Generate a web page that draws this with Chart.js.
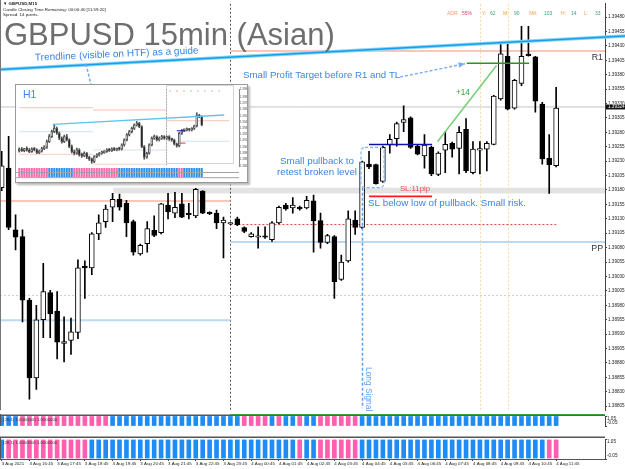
<!DOCTYPE html>
<html>
<head>
<meta charset="utf-8">
<script src="https://cdn.jsdelivr.net/npm/chart.js@4.4.0/dist/chart.umd.min.js"></script>
<style>
  html, body { margin: 0; padding: 0; background: #fff; }
  #wrap { position: relative; width: 625px; height: 469px; overflow: hidden; }
  #wrap canvas { position: absolute; left: 0; }
  #main { top: 0; }
  #pane1 { top: 414px; }
  #pane2 { top: 438px; }
  #inset { position: absolute; left: 15px; top: 84px; width: 231px; height: 97px; border: 1px solid #9a9a9a; box-shadow: 2px 2px 2px #b8b8b8; background: #fff; }
  #inset canvas { position: absolute; left: 0; top: 0; }
</style>
</head>
<body>
<div id="wrap">
  <canvas id="main" width="625" height="414"></canvas>
  <canvas id="pane1" width="625" height="24"></canvas>
  <canvas id="pane2" width="625" height="31"></canvas>
  <div id="inset"><canvas id="h1" width="231" height="97"></canvas></div>
</div>
<script>
// 🔹 GBPUSD M15, 3 Aug 15:45 -> 4 Aug 11:45 (81 candles)
const opens = [1.39184, 1.39218, 1.39111, 1.39099, 1.38989, 1.38854, 1.38955, 1.39002, 1.38970, 1.38914,
  1.38919, 1.38933, 1.39048, 1.39045, 1.39104, 1.39125, 1.39150, 1.39164, 1.39157, 1.39125,
  1.39069, 1.39087, 1.39110, 1.39106, 1.39154, 1.39140, 1.39156, 1.39140, 1.39135, 1.39178,
  1.39140, 1.39140, 1.39123, 1.39121, 1.39130, 1.39115, 1.39099, 1.39098, 1.39099, 1.39094,
  1.39123, 1.39154, 1.39149, 1.39150, 1.39149, 1.39161, 1.39127, 1.39089, 1.39099, 1.39025,
  1.39057, 1.39128, 1.39115, 1.39225, 1.39224, 1.39195, 1.39258, 1.39269, 1.39297, 1.39305,
  1.39256, 1.39239, 1.39254, 1.39207, 1.39249, 1.39261, 1.39252, 1.39285, 1.39210, 1.39249,
  1.39251, 1.39259, 1.39338, 1.39412, 1.39322, 1.39365, 1.39414, 1.39411, 1.39329, 1.39235,
  1.39222];
const highs = [1.39247, 1.39273, 1.39137, 1.39111, 1.38992, 1.38980, 1.39053, 1.39006, 1.39004, 1.38960,
  1.38958, 1.39059, 1.39057, 1.39106, 1.39137, 1.39154, 1.39174, 1.39173, 1.39162, 1.39128,
  1.39086, 1.39125, 1.39135, 1.39157, 1.39174, 1.39176, 1.39174, 1.39157, 1.39183, 1.39179,
  1.39142, 1.39145, 1.39133, 1.39123, 1.39133, 1.39116, 1.39106, 1.39116, 1.39116, 1.39125,
  1.39152, 1.39157, 1.39167, 1.39152, 1.39169, 1.39171, 1.39140, 1.39103, 1.39101, 1.39067,
  1.39144, 1.39144, 1.39230, 1.39247, 1.39225, 1.39256, 1.39276, 1.39298, 1.39326, 1.39307,
  1.39258, 1.39276, 1.39256, 1.39246, 1.39281, 1.39263, 1.39290, 1.39304, 1.39264, 1.39264,
  1.39264, 1.39344, 1.39435, 1.39435, 1.39372, 1.39464, 1.39464, 1.39412, 1.39332, 1.39276,
  1.39358];
const lows = [1.39179, 1.39111, 1.39076, 1.38951, 1.38817, 1.38834, 1.38924, 1.38924, 1.38887, 1.38882,
  1.38895, 1.38922, 1.38992, 1.39033, 1.39094, 1.39115, 1.39125, 1.39145, 1.39099, 1.39067,
  1.39067, 1.39072, 1.39099, 1.39104, 1.39130, 1.39132, 1.39132, 1.39130, 1.39132, 1.39139,
  1.39137, 1.39113, 1.39062, 1.39120, 1.39118, 1.39106, 1.39098, 1.39079, 1.39096, 1.39091,
  1.39121, 1.39145, 1.39140, 1.39145, 1.39147, 1.39072, 1.39079, 1.39087, 1.38992, 1.39023,
  1.39055, 1.39103, 1.39113, 1.39217, 1.39190, 1.39193, 1.39244, 1.39256, 1.39281, 1.39252,
  1.39241, 1.39218, 1.39205, 1.39205, 1.39210, 1.39237, 1.39208, 1.39210, 1.39208, 1.39208,
  1.39213, 1.39258, 1.39336, 1.39319, 1.39320, 1.39361, 1.39412, 1.39315, 1.39225, 1.39174,
  1.39220];
const closes = [1.39222, 1.39115, 1.39098, 1.38989, 1.38854, 1.38955, 1.39004, 1.38965, 1.38916, 1.38917,
  1.38934, 1.39045, 1.39045, 1.39104, 1.39123, 1.39147, 1.39164, 1.39150, 1.39123, 1.39072,
  1.39084, 1.39113, 1.39101, 1.39156, 1.39142, 1.39150, 1.39133, 1.39137, 1.39181, 1.39140,
  1.39139, 1.39123, 1.39128, 1.39122, 1.39120, 1.39108, 1.39104, 1.39099, 1.39098, 1.39123,
  1.39150, 1.39147, 1.39154, 1.39147, 1.39162, 1.39127, 1.39089, 1.39101, 1.39021, 1.39055,
  1.39130, 1.39115, 1.39229, 1.39220, 1.39191, 1.39254, 1.39268, 1.39295, 1.39302, 1.39254,
  1.39242, 1.39258, 1.39208, 1.39244, 1.39259, 1.39251, 1.39280, 1.39213, 1.39251, 1.39252,
  1.39261, 1.39343, 1.39416, 1.39320, 1.39370, 1.39412, 1.39413, 1.39334, 1.39234, 1.39224,
  1.39322];

// time axis: one label every 4 candles
const timeLabels = ['3 Aug 2021', '3 Aug 16:45', '3 Aug 17:45', '3 Aug 18:45', '3 Aug 19:45', '3 Aug 20:45',
  '3 Aug 21:45', '3 Aug 22:45', '3 Aug 23:45', '4 Aug 00:45', '4 Aug 01:45', '4 Aug 02:45', '4 Aug 03:45',
  '4 Aug 04:45', '4 Aug 05:45', '4 Aug 06:45', '4 Aug 07:45', '4 Aug 08:45', '4 Aug 09:45', '4 Aug 10:45',
  '4 Aug 11:45'];
const priceTicks = [1.38805, 1.38830, 1.38855, 1.38880, 1.38905, 1.38930, 1.38955, 1.38980, 1.39005, 1.39030,
  1.39055, 1.39080, 1.39105, 1.39130, 1.39155, 1.39180, 1.39205, 1.39230, 1.39255, 1.39280,
  1.39305, 1.39330, 1.39355, 1.39380, 1.39405, 1.39430, 1.39455, 1.39480];

// signal strips (1 = blue / up, 0 = pink / down)
const pane1Signal = [1,1,1,0,0,0,0,0,0,0, 0,0,0,0,0,0,1,1,1,1, 1,1,1,1,1,1,1,1,1,1,
  1,1,1,1,1,0,0,0,0,1, 0,1,1,0,1,1,0,0,0,0, 0,0,1,1,1,1,1,1,1,1,
  1,1,1,1,1,1,1,1,1,1, 1,1,1,1,1,1,1,1,1,1, 1];
const pane2Signal = [1,0,0,0,0,0,0,0,0,0, 0,0,0,1,1,1,1,1,1,1, 1,1,1,1,1,1,1,1,1,1,
  1,1,1,1,1,1,1,1,1,1, 1,1,1,0,1,1,0,0,0,0, 0,0,1,1,1,1,1,1,1,1,
  1,1,1,1,1,1,1,1,1,1, 1,1,1,1,1,1,1,1,1,0, 0];

// levels (prices)
const prevDay = [1.39161, 1.38954];      // R1, PP of 3 Aug
const today = [1.39421, 1.39090];        // R1, PP of 4 Aug
const dayStart = 33;                     // 4 Aug 00:00 candle
const sessionMarks = [69, 73];
const trendline = [[-0.25, 1.39389], [90, 1.39447]];
const brokenLevel = 1.39259;
const targetLevel = 1.39400;
const stopLevel = 1.39169;
const entryZone = [1.39184, 1.39174];
const redDotted = 1.39120;
const greyDotted = 1.38997;
const lastPrice = 1.39324;
const signalBar = 52;

// 🔹 H1 inset (30 Jul -> 4 Aug 11:00)
const h1Open = [1.38935, 1.38962, 1.38940, 1.38972, 1.38951, 1.38924, 1.38962, 1.38951, 1.38908, 1.38929,
  1.38972, 1.38994, 1.39085, 1.39165, 1.39246, 1.39299, 1.39219, 1.39138, 1.39085, 1.39165,
  1.39112, 1.39004, 1.38924, 1.38897, 1.38951, 1.38870, 1.38854, 1.38897, 1.38833, 1.38801,
  1.38763, 1.38844, 1.38870, 1.38897, 1.38908, 1.38924, 1.38951, 1.38940, 1.38962, 1.38951,
  1.38972, 1.38962, 1.39031, 1.39112, 1.39192, 1.39246, 1.39299, 1.39353, 1.39380, 1.39326,
  1.39004, 1.38833, 1.38897, 1.39031, 1.39138, 1.39165, 1.39112, 1.39138, 1.39165, 1.39138,
  1.39165, 1.39122, 1.39112, 1.39047, 1.39015, 1.39219, 1.39262, 1.39272, 1.39283, 1.39272,
  1.39299, 1.39337, 1.39514, 1.39487];
const h1High = [1.38985, 1.38990, 1.38975, 1.39000, 1.38975, 1.38985, 1.38990, 1.38970, 1.38950, 1.38995,
  1.39020, 1.39110, 1.39200, 1.39270, 1.39365, 1.39320, 1.39240, 1.39160, 1.39190, 1.39200,
  1.39130, 1.39030, 1.38950, 1.38980, 1.38970, 1.38900, 1.38920, 1.38910, 1.38850, 1.38820,
  1.38860, 1.38890, 1.38910, 1.38930, 1.38940, 1.38970, 1.38975, 1.38985, 1.38990, 1.38980,
  1.38995, 1.39050, 1.39130, 1.39215, 1.39265, 1.39320, 1.39370, 1.39410, 1.39395, 1.39340,
  1.39020, 1.38915, 1.39050, 1.39160, 1.39190, 1.39180, 1.39160, 1.39185, 1.39180, 1.39175,
  1.39180, 1.39140, 1.39125, 1.39060, 1.39235, 1.39280, 1.39290, 1.39305, 1.39295, 1.39310,
  1.39350, 1.39550, 1.39525, 1.39500];
const h1Low = [1.38915, 1.38925, 1.38920, 1.38930, 1.38905, 1.38910, 1.38935, 1.38890, 1.38890, 1.38915,
  1.38955, 1.38975, 1.39070, 1.39150, 1.39230, 1.39200, 1.39115, 1.39060, 1.39070, 1.39095,
  1.38985, 1.38900, 1.38870, 1.38880, 1.38850, 1.38830, 1.38840, 1.38810, 1.38780, 1.38735,
  1.38745, 1.38825, 1.38850, 1.38880, 1.38895, 1.38910, 1.38925, 1.38925, 1.38940, 1.38935,
  1.38945, 1.38950, 1.39010, 1.39095, 1.39175, 1.39225, 1.39280, 1.39335, 1.39310, 1.38985,
  1.38800, 1.38815, 1.38880, 1.39015, 1.39120, 1.39095, 1.39095, 1.39120, 1.39120, 1.39120,
  1.39105, 1.39090, 1.39030, 1.38995, 1.39000, 1.39200, 1.39245, 1.39255, 1.39255, 1.39255,
  1.39280, 1.39320, 1.39470, 1.39340];
const h1Close = [1.38962, 1.38940, 1.38972, 1.38951, 1.38924, 1.38962, 1.38951, 1.38908, 1.38929, 1.38972,
  1.38994, 1.39085, 1.39165, 1.39246, 1.39299, 1.39219, 1.39138, 1.39085, 1.39165, 1.39112,
  1.39004, 1.38924, 1.38897, 1.38951, 1.38870, 1.38854, 1.38897, 1.38833, 1.38801, 1.38763,
  1.38844, 1.38870, 1.38897, 1.38908, 1.38924, 1.38951, 1.38940, 1.38962, 1.38951, 1.38972,
  1.38962, 1.39031, 1.39112, 1.39192, 1.39246, 1.39299, 1.39353, 1.39380, 1.39326, 1.39004,
  1.38833, 1.38897, 1.39031, 1.39138, 1.39165, 1.39112, 1.39138, 1.39165, 1.39138, 1.39165,
  1.39122, 1.39112, 1.39047, 1.39015, 1.39219, 1.39262, 1.39272, 1.39283, 1.39272, 1.39299,
  1.39337, 1.39514, 1.39487, 1.39353];
const h1Strip = [0,0,0,0,0,0,0,0,0,0, 0,0,1,1,1,1,1,1,1,1, 1,1,0,0,0,0,0,0,0,0,
  0,0,0,0,0,0,0,0,0,0, 1,1,1,1,1,1,1,1,1,1, 1,1,1,1,1,1,1,1,1,1,
  1,1,1,1,0,0,1,1,1,1, 1,1,1,1];
const h1Trend = [[13.4, 1.39364], [82, 1.39514]];
const h1Levels = [[0, 29.5, 1.39631, '#f7c2b4'], [29.5, 58.7, 1.39594, '#f7c2b4'], [58.7, 84, 1.39421, '#f7c2b4'],
  [0, 29.5, 1.39244, '#cfe2f5'], [29.5, 58.7, 1.38949, '#cfe2f5'], [58.7, 84, 1.39090, '#cfe2f5'],
  [0, 29.5, 1.38880, '#f7d0c6'], [29.5, 58.7, 1.38720, '#f7d0c6']];
const h1DayStart = 58.7;

const X_MIN = -0.245, X_MAX = 87.05;
const FONT = '"Liberation Sans", Arial, sans-serif';
const BLUE_TXT = '#3b86e2';

function seg(points, color, width, dash, order) {
  return {
    type: 'line',
    data: points.map(p => ({ x: p[0], y: p[1] })),
    borderColor: color,
    borderWidth: width,
    borderDash: dash || [],
    pointRadius: 0,
    fill: false,
    clip: false,
    order: order
  };
}

const idx = opens.map((_, i) => i);

function txt(ctx, s, x, y, size, color, align, weight) {
  ctx.font = (weight || '') + ' ' + size + 'px ' + FONT;
  ctx.fillStyle = color;
  ctx.textAlign = align || 'left';
  ctx.textBaseline = 'middle';
  ctx.fillText(s, x, y);
}

function arrow(ctx, x0, y0, x1, y1, color) {
  ctx.save();
  ctx.strokeStyle = color;
  ctx.fillStyle = color;
  ctx.lineWidth = 1.5;
  ctx.setLineDash([3, 2]);
  ctx.beginPath();
  ctx.moveTo(x0, y0);
  ctx.lineTo(x1, y1);
  ctx.stroke();
  ctx.setLineDash([]);
  const a = Math.atan2(y1 - y0, x1 - x0);
  ctx.beginPath();
  ctx.moveTo(x1, y1);
  ctx.lineTo(x1 - 7 * Math.cos(a - 0.4), y1 - 7 * Math.sin(a - 0.4));
  ctx.lineTo(x1 - 7 * Math.cos(a + 0.4), y1 - 7 * Math.sin(a + 0.4));
  ctx.closePath();
  ctx.fill();
  ctx.restore();
}

const mainDecor = {
  id: 'mainDecor',
  beforeDatasetsDraw(chart) {
    const { ctx, chartArea: a, scales: { x, y } } = chart;
    ctx.save();
    // zone band
    const bx = x.getPixelForValue(16.1);
    ctx.fillStyle = '#e3e3e3';
    ctx.fillRect(bx, y.getPixelForValue(entryZone[0]), a.right - bx,
      y.getPixelForValue(entryZone[1]) - y.getPixelForValue(entryZone[0]));
    // vertical separators
    ctx.lineWidth = 1;
    ctx.setLineDash([2, 2]);
    ctx.strokeStyle = '#555';
    const px = Math.round(x.getPixelForValue(dayStart)) + 0.5;
    ctx.beginPath(); ctx.moveTo(px, a.top); ctx.lineTo(px, a.bottom); ctx.stroke();
    ctx.strokeStyle = '#f6d9a6';
    sessionMarks.forEach(i => {
      const sx = Math.round(x.getPixelForValue(i)) + 0.5;
      ctx.beginPath(); ctx.moveTo(sx, a.top); ctx.lineTo(sx, a.bottom); ctx.stroke();
    });
    ctx.restore();
  },
  afterDatasetsDraw(chart) {
    const { ctx, chartArea: a, scales: { x, y } } = chart;
    ctx.save();
    // window border
    ctx.strokeStyle = '#777';
    ctx.lineWidth = 1;
    ctx.beginPath(); ctx.moveTo(0.5, 0); ctx.lineTo(0.5, a.bottom); ctx.stroke();

    // long signal line
    const lx = Math.round(x.getPixelForValue(signalBar)) + 0.5;
    ctx.strokeStyle = '#5b9ff0';
    ctx.lineWidth = 1.5;
    ctx.setLineDash([3, 2]);
    ctx.beginPath(); ctx.moveTo(lx, y.getPixelForValue(entryZone[0])); ctx.lineTo(lx, a.bottom - 2); ctx.stroke();

    // pullback box
    const bx0 = x.getPixelForValue(51.85), bx1 = x.getPixelForValue(55.17);
    const by0 = y.getPixelForValue(1.39254), by1 = y.getPixelForValue(1.39184);
    ctx.strokeStyle = '#7eb3f0';
    ctx.lineWidth = 1.2;
    ctx.beginPath();
    ctx.roundRect(bx0, by0, bx1 - bx0, by1 - by0, 4);
    ctx.stroke();
    ctx.setLineDash([]);

    // arrows
    arrow(ctx, x.getPixelForValue(57.5), y.getPixelForValue(1.39376), x.getPixelForValue(66.85), y.getPixelForValue(1.39399), '#7aaef0');
    arrow(ctx, 86, 64, 100, 122, '#6ea8f0');

    // texts
    txt(ctx, 'GBPUSD 15min (Asian)', 4, 36, 31, '#6e6e6e', 'left');
    txt(ctx, '\u25BC GBPUSD,M15', 3, 4, 4.4, '#222', 'left', 'bold');
    txt(ctx, 'Candle Closing Time Remaining: 00:00:40 [11:59:20]', 3, 9.5, 4.4, '#222', 'left');
    txt(ctx, 'Spread: 14 points.', 3, 15, 4.4, '#222', 'left');

    const adr = [['ADR', '#f2a04c', 447], ['55%', '#e8436e', 462], ['Y:', '#f2a04c', 482], ['62', '#3f9f70', 490],
      ['M:', '#f2a04c', 503], ['90', '#3f9f70', 514], ['6M:', '#f2a04c', 529], ['103', '#3f9f70', 544],
      ['H:', '#f2a04c', 561], ['14', '#3f9f70', 571], ['L:', '#f2a04c', 584], ['33', '#3f9f70', 595]];
    adr.forEach(t => txt(ctx, t[0], t[2], 14, 5, t[1], 'left'));

    ctx.save();
    ctx.translate(35, 58);
    ctx.rotate(-0.045);
    txt(ctx, 'Trendline (visible on HTF) as a guide', 0, 0, 10, BLUE_TXT, 'left');
    ctx.restore();

    txt(ctx, 'Small Profit Target before R1 and TL', 243, 75, 9.7, BLUE_TXT, 'left');
    txt(ctx, 'Small pullback to', 317, 161, 9.8, BLUE_TXT, 'center');
    txt(ctx, 'retest broken level', 317, 172, 9.8, BLUE_TXT, 'center');
    txt(ctx, 'SL:11pip', 415, 189, 7.8, '#f04c4c', 'center');
    txt(ctx, 'SL below low of pullback. Small risk.', 368, 203, 9.8, BLUE_TXT, 'left');
    txt(ctx, '+14', 456, 93, 8.2, '#34a034', 'left');

    ctx.save();
    ctx.translate(lx + 6, 367);
    ctx.rotate(Math.PI / 2);
    txt(ctx, 'Long Signal', 0, 0, 8.4, '#5b9ff0', 'left');
    ctx.restore();

    txt(ctx, 'R1', 603, y.getPixelForValue(today[0]) + 7, 8.8, '#333', 'right');
    txt(ctx, 'PP', 603, y.getPixelForValue(today[1]) + 7, 8.8, '#333', 'right');

    // last price tag
    const py = y.getPixelForValue(lastPrice);
    ctx.fillStyle = '#111';
    ctx.fillRect(a.right + 1, py - 2.5, 19, 5);
    txt(ctx, lastPrice.toFixed(5), a.right + 3, py, 4.6, '#fff', 'left');
    ctx.restore();
  }
};

function candleSets(o, h, l, c, bodyW, border) {
  const n = o.map((_, i) => i);
  return [
    {
      data: n.map(i => ({ x: i, y: [o[i], c[i]] })),
      backgroundColor: n.map(i => c[i] > o[i] ? '#ffffff' : '#000000'),
      borderColor: border,
      borderWidth: 1,
      borderSkipped: false,
      barThickness: bodyW,
      minBarLength: 1.5,
      grouped: false,
      order: 2
    },
    {
      data: n.map(i => ({ x: i, y: [l[i], h[i]] })),
      backgroundColor: border,
      barThickness: 1,
      grouped: false,
      order: 3
    }
  ];
}

new Chart(document.getElementById('main'), {
  type: 'bar',
  data: {
    datasets: [
      ...candleSets(opens, highs, lows, closes, 5, '#000000'),
      seg([[X_MIN, prevDay[0]], [dayStart, prevDay[0]]], '#f7b3a0', 1.5, [], 10),
      seg([[dayStart, today[0]], [X_MAX, today[0]]], '#f7b3a0', 1.5, [], 10),
      seg([[X_MIN, prevDay[1]], [dayStart, prevDay[1]]], '#bcd8f2', 2, [], 10),
      seg([[dayStart, today[1]], [X_MAX, today[1]]], '#bcd8f2', 2, [], 10),
      seg([[X_MIN, lastPrice], [X_MAX, lastPrice]], '#c4c4c4', 1, [], 10),
      seg([[X_MIN, greyDotted], [X_MAX, greyDotted]], '#cfcfcf', 1, [2, 2], 10),
      seg([[dayStart, redDotted], [80, redDotted]], '#e23a3a', 1, [2, 2], 10),
      seg(trendline, '#8ad6f6', 3.5, [], 1),
      seg(trendline, '#159eea', 1.5, [], 0),
      seg([[53, brokenLevel], [62.1, brokenLevel]], '#1010b0', 1.5, [], 0),
      seg([[53, stopLevel], [62.1, stopLevel]], '#ff1a1a', 1.8, [], 0),
      seg([[67.1, targetLevel], [76.1, targetLevel]], '#229a22', 1.5, [], 0),
      seg([[62.9, 1.39264], [71.4, 1.39396]], '#74cf74', 1.5, [], 0)
    ]
  },
  options: {
    responsive: false,
    animation: false,
    layout: { padding: 0 },
    plugins: { legend: { display: false }, tooltip: { enabled: false } },
    scales: {
      x: { type: 'linear', min: X_MIN, max: X_MAX, offset: false, display: false },
      y: {
        position: 'right',
        min: 1.38798,
        max: 1.39503,
        afterBuildTicks: s => { s.ticks = priceTicks.map(v => ({ value: v })); },
        afterFit: s => { s.width = 20; },
        ticks: { font: { size: 4.6, family: FONT }, color: '#222', padding: 1, callback: v => v.toFixed(5) },
        grid: { drawOnChartArea: false, tickLength: 2, color: '#444' },
        border: { color: '#444' }
      }
    }
  },
  plugins: [mainDecor]
});

// 🔹 signal panes
function paneChart(id, signal, withTime) {
  const panePlugin = {
    id: 'pane' + id,
    afterDraw(chart) {
      const { ctx, chartArea: a } = chart;
      ctx.save();
      if (id === 'pane1') {
        ctx.fillStyle = '#555';
        ctx.fillRect(0, 0.5, a.right, 1.5);
        ctx.fillStyle = '#3ea03e';
        const dx = chart.scales.x.getPixelForValue(dayStart);
        ctx.fillRect(dx, 0, a.right - dx, 1.2);
        ctx.fillStyle = '#555';
        ctx.fillRect(0, chart.height - 1.5, a.right, 1.5);
      } else {
        ctx.fillStyle = '#555';
        ctx.fillRect(0, a.bottom, a.right, 1);
      }
      ctx.fillStyle = '#555';
      ctx.fillRect(0, 0, 1, a.bottom);
      txt(ctx, '(28,1) 1.0000000 1.0000000', 3, a.top + 4, 4.3, '#333', 'left');
      txt(ctx, '1.05', a.right + 2, a.top + 3, 4.6, '#222', 'left');
      txt(ctx, '-0.05', a.right + 2, a.bottom - 3, 4.6, '#222', 'left');
      ctx.restore();
    }
  };
  return new Chart(document.getElementById(id), {
    type: 'bar',
    data: {
      datasets: [{
        data: idx.map(i => ({ x: i, y: [0, 1] })),
        backgroundColor: signal.map(s => s ? '#1f8cf5' : '#ff5fae'),
        barThickness: 4,
        grouped: false
      }]
    },
    options: {
      responsive: false,
      animation: false,
      layout: { padding: id === 'pane1' ? { top: 2, bottom: 2 } : { top: 1 } },
      plugins: { legend: { display: false }, tooltip: { enabled: false } },
      scales: {
        x: {
          type: 'linear', min: X_MIN, max: X_MAX, offset: false,
          display: withTime,
          afterBuildTicks: s => { s.ticks = timeLabels.map((_, k) => ({ value: k * 4 })); },
          afterFit: s => { s.height = 10; },
          ticks: {
            autoSkip: false, maxRotation: 0, align: 'start', padding: 0,
            font: { size: 4.4, family: FONT }, color: '#222',
            callback: v => timeLabels[v / 4]
          },
          grid: { drawOnChartArea: false, tickLength: 2, color: '#444', offset: false },
          border: { color: '#444' }
        },
        y: {
          position: 'right', min: -0.05, max: 1.05,
          afterFit: s => { s.width = 20; },
          ticks: { display: false },
          grid: { drawOnChartArea: false, tickLength: 2, color: '#444' },
          border: { color: '#444' }
        }
      }
    },
    plugins: [panePlugin]
  });
}
paneChart('pane1', pane1Signal, false);
paneChart('pane2', pane2Signal, true);

// 🔹 H1 inset chart
const insetPlugin = {
  id: 'insetDecor',
  beforeDatasetsDraw(chart) {
    const { ctx, chartArea: a, scales: { x } } = chart;
    ctx.save();
    // current-day panel
    const dx = x.getPixelForValue(h1DayStart);
    ctx.strokeStyle = '#d6d6d6';
    ctx.lineWidth = 1;
    ctx.strokeRect(Math.round(dx) + 0.5, 0.5, a.right - dx - 6, a.bottom - 3);
    ctx.setLineDash([1.5, 1.5]);
    ctx.strokeStyle = '#aaa';
    ctx.beginPath(); ctx.moveTo(Math.round(dx) + 0.5, a.top); ctx.lineTo(Math.round(dx) + 0.5, a.bottom); ctx.stroke();
    ctx.setLineDash([2, 3]);
    ['#f5b070', '#f0a0b0', '#f5b070', '#9ad0b0', '#f5b070', '#9ad0b0', '#f5b070', '#9ad0b0'].forEach((c, k) => {
      ctx.strokeStyle = c;
      ctx.beginPath(); ctx.moveTo(dx + 3 + k * 7, 6); ctx.lineTo(dx + 8 + k * 7, 6); ctx.stroke();
    });
    ctx.restore();
  },
  afterDraw(chart) {
    const { ctx, chartArea: a, scales: { x } } = chart;
    ctx.save();
    txt(ctx, 'H1', 7, 10, 10.5, '#3b8ae6', 'left');
    // strips
    h1Strip.forEach((s, i) => {
      ctx.fillStyle = s ? '#2b8ef2' : '#ff66b0';
      const px = x.getPixelForValue(i) - 1;
      ctx.fillRect(px, a.bottom + 2, 2, 4);
      ctx.fillRect(px, a.bottom + 7, 2, 4);
    });
    ctx.fillStyle = '#666';
    ctx.fillRect(0, a.bottom + 6.3, a.right, 0.6);
    ctx.fillRect(0, a.bottom + 11.5, a.right, 0.6);
    ctx.restore();
  }
};
new Chart(document.getElementById('h1'), {
  type: 'bar',
  data: {
    datasets: [
      ...candleSets(h1Open, h1High, h1Low, h1Close, 2, '#555555'),
      ...h1Levels.map(l => seg([[l[0], l[2]], [l[1], l[2]]], l[3], 1, [], 10)),
      seg(h1Trend, '#5cc4f2', 1.3, [], 0),
      seg([[64, 1.39060], [66.5, 1.39060]], '#e04040', 1, [], 0),
      seg([[63, 1.39259], [66.5, 1.39259]], '#1a1ab0', 1, [], 0)
    ]
  },
  options: {
    responsive: false,
    animation: false,
    layout: { padding: { left: 2, top: 4, bottom: 16 } },
    plugins: { legend: { display: false }, tooltip: { enabled: false } },
    scales: {
      x: { type: 'linear', min: -0.52, max: 87.9, offset: false, display: false },
      y: {
        position: 'right', min: 1.38691, max: 1.39933,
        afterFit: s => { s.width = 8; },
        ticks: { stepSize: 0.001, font: { size: 2.8, family: FONT }, color: '#444', padding: 0, callback: v => v.toFixed(5) },
        grid: { drawOnChartArea: false, tickLength: 1, color: '#888' },
        border: { color: '#888' }
      }
    }
  },
  plugins: [insetPlugin]
});
</script>
</body>
</html>
